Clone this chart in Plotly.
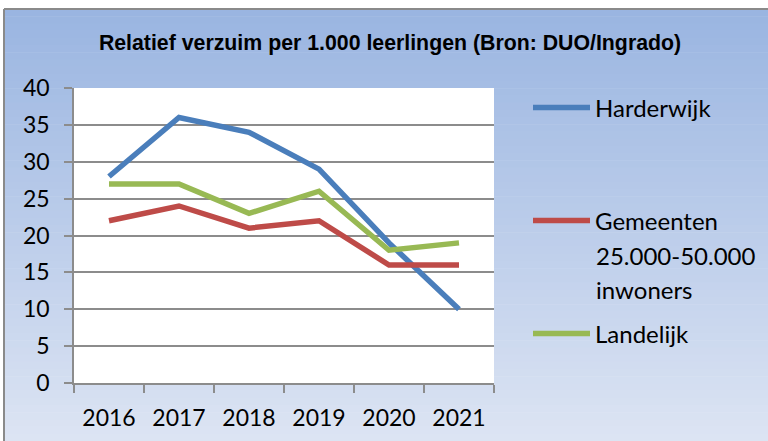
import plotly.graph_objects as go

years = ["2016", "2017", "2018", "2019", "2020", "2021"]
harderwijk = [28, 36, 34, 29, 19, 10]
gemeenten = [22, 24, 21, 22, 16, 16]
landelijk = [27, 27, 23, 26, 18, 19]

W, H = 768, 441
L, R, T, B = 74, 494, 88, 383  # plot area in px

def px(x):
    return (x - L) / (R - L)

def py(y):
    return (B - y) / (B - T)

fig = go.Figure()
fig.add_trace(go.Scatter(x=years, y=harderwijk, mode="lines", name="Harderwijk",
                         line=dict(color="#4A7EBB", width=5.5), legend="legend"))
fig.add_trace(go.Scatter(x=years, y=gemeenten, mode="lines", name="Gemeenten",
                         line=dict(color="#BE4B48", width=5.5), legend="legend2"))
fig.add_trace(go.Scatter(x=years, y=landelijk, mode="lines", name="Landelijk",
                         line=dict(color="#98B954", width=5.5), legend="legend3"))

shapes = []
# gradient background
top_c = (154, 181, 225)
bot_c = (220, 228, 243)
n = 60
y0 = 9
for i in range(n):
    a = y0 + (H - y0) * i / n
    b = y0 + (H - y0) * (i + 1) / n + 0.5
    t = i / (n - 1)
    c = tuple(round(top_c[k] + (bot_c[k] - top_c[k]) * t) for k in range(3))
    shapes.append(dict(type="rect", xref="paper", yref="paper", layer="below",
                       x0=px(4), x1=px(W + 2), y0=py(a), y1=py(b),
                       fillcolor="rgb(%d,%d,%d)" % c, line=dict(width=0)))
# plot area white
shapes.append(dict(type="rect", xref="paper", yref="paper", layer="below",
                   x0=0, x1=1, y0=0, y1=1, fillcolor="white", line=dict(width=0)))
# chart border (top and left)
shapes.append(dict(type="line", xref="paper", yref="paper", layer="above",
                   x0=px(4), x1=px(W + 2), y0=py(9), y1=py(9),
                   line=dict(color="#8A8A8A", width=2)))
shapes.append(dict(type="line", xref="paper", yref="paper", layer="above",
                   x0=px(4), x1=px(4), y0=py(9), y1=py(H + 2),
                   line=dict(color="#8A8A8A", width=2)))

font_main = "Lato, 'Open Sans', sans-serif"
LEG_SIZE = 24
TICK_SIZE = 23
leg_common = dict(font=dict(family=font_main, size=LEG_SIZE, color="black"),
                  bgcolor="rgba(0,0,0,0)", borderwidth=0, xref="paper", yref="paper",
                  xanchor="left", yanchor="middle", itemwidth=57)

fig.update_layout(
    width=W, height=H,
    margin=dict(l=L, r=W - R, t=T, b=H - B, autoexpand=False),
    paper_bgcolor="white",
    plot_bgcolor="rgba(0,0,0,0)",
    title=dict(text="<b>Relatief verzuim per 1.000 leerlingen (Bron: DUO/Ingrado)</b>",
               x=390 / W, xref="container", xanchor="center",
               y=1 - 43 / H, yref="container", yanchor="middle",
               font=dict(family="'Liberation Sans', Arial, sans-serif", size=21.3, color="black")),
    showlegend=True,
    legend=dict(x=px(528), y=py(108), **leg_common),
    legend2=dict(x=px(528), y=py(221), **leg_common),
    legend3=dict(x=px(528), y=py(334), **leg_common),
    shapes=shapes,
    annotations=[
        dict(text="25.000-50.000", xref="paper", yref="paper", x=px(594), y=py(255),
             xanchor="left", yanchor="middle", showarrow=False,
             font=dict(family=font_main, size=LEG_SIZE, color="black")),
        dict(text="inwoners", xref="paper", yref="paper", x=px(594), y=py(289),
             xanchor="left", yanchor="middle", showarrow=False,
             font=dict(family=font_main, size=LEG_SIZE, color="black")),
    ],
    xaxis=dict(type="category", range=[-0.5, 5.5], tickson="boundaries",
               showgrid=False, showline=True, linecolor="#8C8C8C", linewidth=1.5,
               ticks="outside", ticklen=8, tickcolor="#8C8C8C", tickwidth=1.5,
               ticklabelstandoff=14,
               tickfont=dict(family=font_main, size=TICK_SIZE, color="black")),
    yaxis=dict(range=[0, 40], dtick=5, tick0=0, showgrid=True, gridcolor="#8C8C8C",
               gridwidth=1.5, zeroline=False, showline=True, linecolor="#8C8C8C",
               linewidth=1.5, ticks="outside", ticklen=8, tickcolor="#8C8C8C",
               tickwidth=1.5, ticklabelstandoff=10,
               tickfont=dict(family=font_main, size=TICK_SIZE, color="black")),
)

fig.write_html("out.html", config={"displayModeBar": False},
               post_script="document.body.style.margin='0';")
